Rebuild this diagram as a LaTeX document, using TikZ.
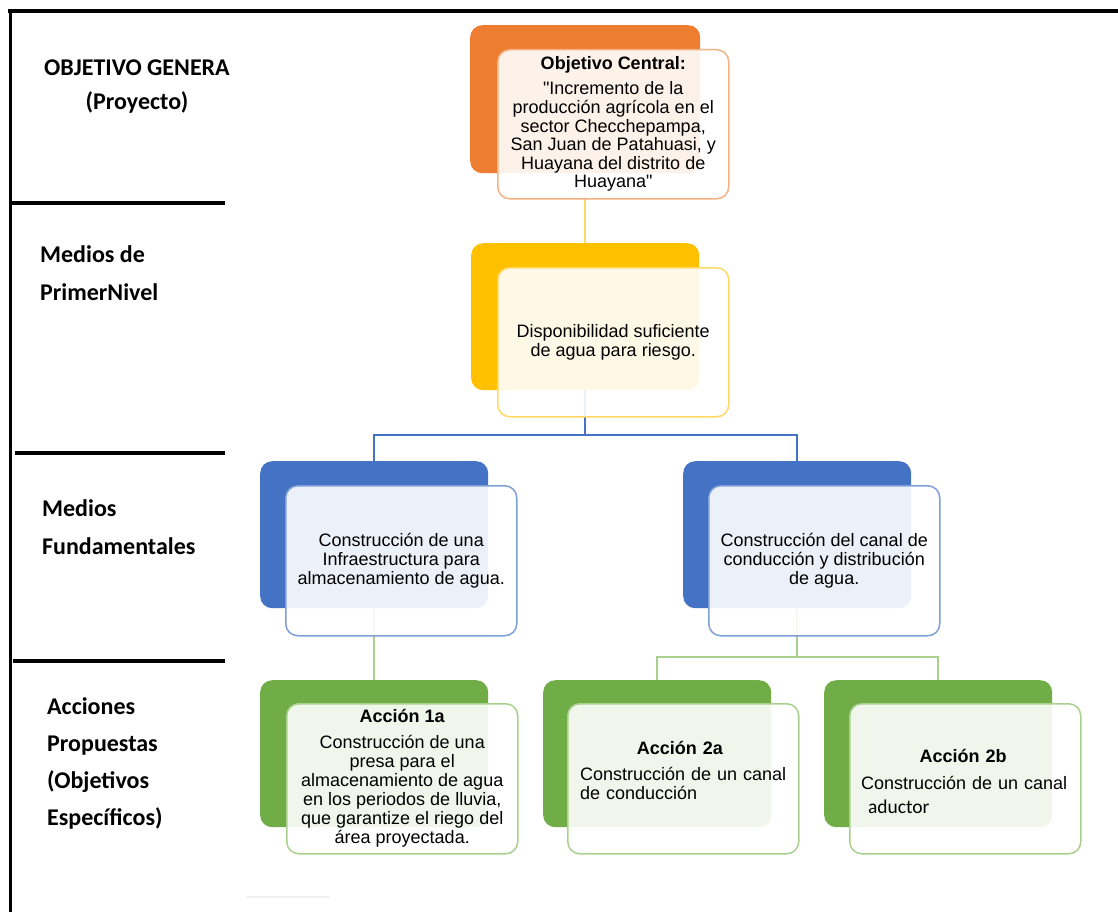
\documentclass[tikz,border=0pt]{standalone}
\usepackage{fontspec}
\usetikzlibrary{calc}
\setmainfont{Liberation Sans}[Ligatures=TeXOff]
\newfontfamily\lblfont{Carlito}
\definecolor{orangeA}{HTML}{ED7D31}
\definecolor{orangeB}{HTML}{F4B183}
\definecolor{yellowA}{HTML}{FFC000}
\definecolor{yellowB}{HTML}{FFD966}
\definecolor{blueA}{HTML}{4472C4}
\definecolor{blueB}{HTML}{7F9FD8}
\definecolor{greenA}{HTML}{70AD47}
\definecolor{greenB}{HTML}{A9D18E}
\begin{document}
\begin{tikzpicture}[x=1pt,y=-1pt,
  backbox/.style={draw=none, fill=#1, rounded corners=12pt, minimum width=228pt, minimum height=147pt, anchor=north west, inner sep=0pt},
  frontbox/.style={draw=#1, line width=1.5pt, fill=white, fill opacity=0.9, text opacity=1, rounded corners=12pt, minimum width=231pt, minimum height=150pt, anchor=north west, inner sep=0pt, align=center, font=\fontsize{18}{18.6}\selectfont},
  boxtext/.style={font=\fontsize{18}{19}\selectfont, inner sep=0pt, text width=210pt, align=left},
  lbl/.style={font=\lblfont\bfseries\fontsize{24}{37.5}\selectfont, align=left, anchor=west, inner sep=0pt},
  framel/.style={line width=4pt, black},
  con/.style={line width=2pt, draw=#1}
]
\path[use as bounding box, fill=white] (0,0) rectangle (1118,912);

% frame
\draw[framel] (8,11) -- (1118,11);
\draw[line width=3pt] (10,9) -- (10,912);
\draw[framel] (12,203) -- (225,203);
\draw[framel] (15,453) -- (225,453);
\draw[framel] (13,661) -- (225,661);
\draw[gray!12, line width=1.5pt] (246,897) -- (330,897);

% left labels
\node[lbl, align=center, anchor=center, font=\lblfont\bfseries\fontsize{24}{34}\selectfont] (lobj) at (137,87) {OBJETIVO GENERA\\(Proyecto)};
\node[lbl, font=\lblfont\bfseries\fontsize{24}{38}\selectfont] (lmp) at (40,273) {Medios de\\PrimerNivel};
\node[lbl, font=\lblfont\bfseries\fontsize{24}{38}\selectfont] (lmf) at (42,527) {Medios\\Fundamentales};
\node[lbl, font=\lblfont\bfseries\fontsize{24}{37}\selectfont] (lap) at (47,763) {Acciones\\Propuestas\\(Objetivos\\Específicos)};

% back boxes
\node[backbox=orangeA, minimum width=230pt, minimum height=148pt] (b1) at (470,25) {};
\node[backbox=yellowA] (b2) at (471,243) {};
\node[backbox=blueA] (b3) at (260,461) {};
\node[backbox=blueA] (b4) at (683,461) {};
\node[backbox=greenA] (b5) at (260,680) {};
\node[backbox=greenA] (b6) at (543,680) {};
\node[backbox=greenA] (b7) at (824,680) {};

% connectors
\draw[con=yellowB] (b1.south) -- (b2.north);
\coordinate (jb) at ($(b2.south)+(0,45)$);
\draw[con=blueA] (b2.south) -- (b2.south |- jb);
\draw[con=blueA] (b3.north) -- (b3.north |- jb) -- (b4.north |- jb) -- (b4.north);
\draw[con=greenB] (b3.south) -- (b5.north);
\coordinate (jg) at ($(b4.south)+(0,49)$);
\draw[con=greenB] (b4.south) -- (b4.south |- jg);
\draw[con=greenB] (b6.north) -- (b6.north |- jg) -- (b7.north |- jg) -- (b7.north);

% front boxes
\node[frontbox=orangeB, minimum height=149pt] (f1) at (497,49) {\textbf{Objetivo Central:}\\[6.5pt]"Incremento de la\\producción agrícola en el\\sector Checchepampa,\\San Juan de Patahuasi, y\\Huayana del distrito de\\Huayana"};
\node[frontbox=yellowB, minimum height=149pt] (f2) at (497,267) {Disponibilidad suficiente\\de agua para riesgo.};
\node[frontbox=blueB] (f3) at (285,485) {Construcción de una\\Infraestructura para\\almacenamiento de agua.};
\node[frontbox=blueB] (f4) at (708,485) {Construcción del canal de\\conducción y distribución\\de agua.};
\node[frontbox=greenB, font=\fontsize{18}{19}\selectfont] (f5) at (286,703) {\textbf{Acción 1a}\\[7pt]Construcción de una\\presa para el\\almacenamiento de agua\\en los periodos de lluvia,\\que garantize el riego del\\área proyectada.};
\node[frontbox=greenB] (f6) at (567,703) {};
\node[frontbox=greenB] (f7) at (849,703) {};

\node[boxtext] (t6) at (685,770) {\makebox[\linewidth]{\textbf{Acción 2a}\hspace*{10pt}}\\[7pt]Construcción de un canal\\de conducción};
\node[boxtext] (t7) at (966,781) {\makebox[\linewidth]{\textbf{Acción 2b}\hspace*{6pt}}\\[8pt]Construcción de un canal\\[5pt]\hspace*{7pt}{\lblfont\fontsize{19.5}{19.5}\selectfont aductor}};
\end{tikzpicture}
\end{document}
